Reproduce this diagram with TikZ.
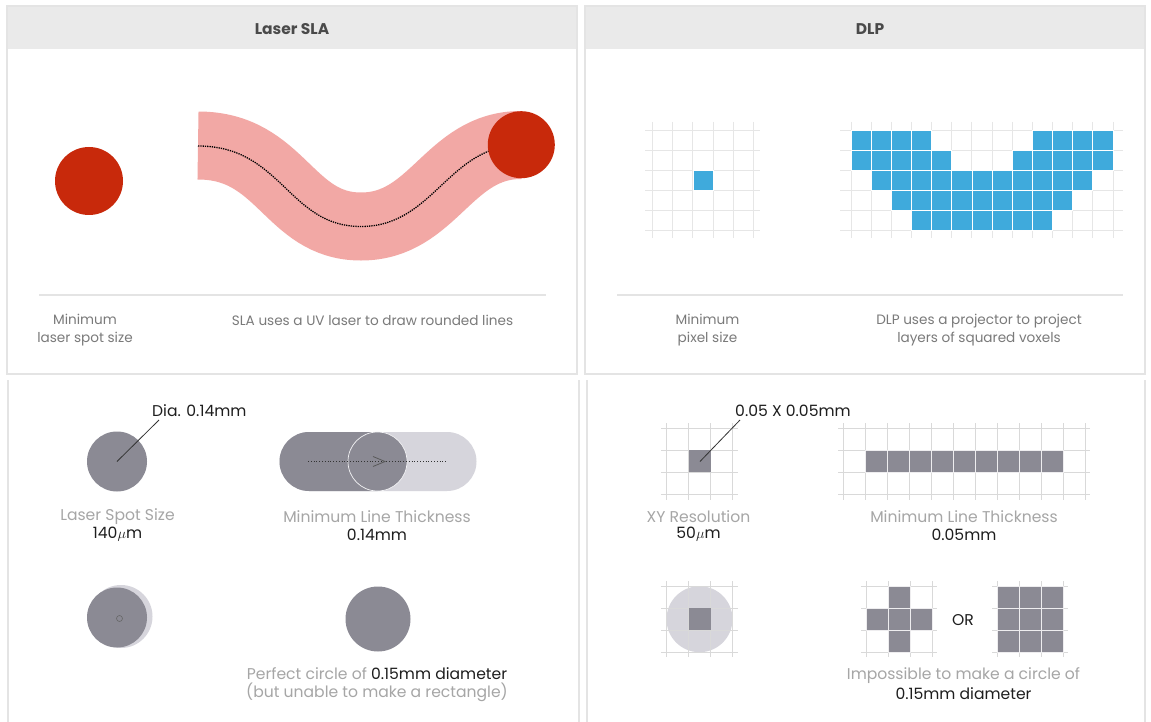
\documentclass[tikz,border=0pt]{standalone}
\usepackage{fontspec}
\setmainfont{Poppins}
\definecolor{redc}{HTML}{C8290B}
\definecolor{pinkc}{HTML}{F2A8A5}
\definecolor{bluec}{HTML}{3FAADC}
\definecolor{darkg}{HTML}{8B8A94}
\definecolor{lightg}{HTML}{D6D5DC}
\definecolor{headc}{HTML}{EAEAEA}
\definecolor{borderc}{HTML}{E4E4E4}
\definecolor{gridc}{HTML}{E6E6E6}
\definecolor{gridd}{HTML}{D9D9D9}
\definecolor{toptext}{HTML}{7A7A7A}
\definecolor{headtext}{HTML}{4A4A4A}
\definecolor{labg}{HTML}{A6A6A6}
\definecolor{valc}{HTML}{1E1E1E}
\begin{document}
\begin{tikzpicture}[x=1pt,y=-1pt,
  panel/.style={draw=borderc,line width=1.5pt},
  headband/.style={fill=headc},
  headlabel/.style={font=\fontsize{15.5}{18}\selectfont\bfseries,text=headtext,inner sep=0pt},
  toplabel/.style={font=\fontsize{13.6}{18}\selectfont,text=toptext,align=center,inner sep=0pt},
  graylabel/.style={font=\fontsize{15.6}{18}\selectfont,text=labg,align=center,inner sep=0pt},
  vallabel/.style={font=\fontsize{15.6}{18}\selectfont,text=valc,align=center,inner sep=0pt},
  sepline/.style={draw=borderc,line width=1.2pt},
  gline/.style={draw=gridc,line width=0.9pt},
  dline/.style={draw=gridd,line width=0.8pt},
  bcell/.style={fill=bluec,draw=white,line width=0.8pt},
  gcell/.style={fill=darkg,draw=white!85!darkg,line width=0.8pt},
  leader/.style={draw=black!80,line width=0.8pt}]
\useasboundingbox (0,0) rectangle (1151,722);
\fill[white] (0,0) rectangle (1151,722);

% ---------- top panels ----------
\fill[headband] (7,6) rectangle (577,49);
\fill[headband] (585,6) rectangle (1145,49);
\draw[panel] (7,6) rectangle (577,374);
\draw[panel] (585,6) rectangle (1145,374);
\node[headlabel] (hsla) at (292,29) {Laser SLA};
\node[headlabel] (hdlp) at (870,29) {DLP};

% bottom panel side lines
\draw[panel] (8,380) -- (8,722);
\draw[panel] (579,380) -- (579,722);
\draw[panel] (587,380) -- (587,722);
\draw[panel] (1145,380) -- (1145,722);

% ---------- Laser SLA top ----------
\fill[redc] (89,181) circle[radius=34pt];
\draw[pinkc,line width=68pt] (198,145.5) .. controls (282,145.5) and (288,226.5) .. (361,226.5) .. controls (434,226.5) and (448,145) .. (521,145);
\draw[black,line width=1.3pt,densely dotted] (198,146) .. controls (282,146) and (288,226.5) .. (361,226.5) .. controls (434,226.5) and (448,145) .. (521,145);
\fill[redc] (521.3,144.7) circle[radius=33.5pt];
\draw[sepline] (39,295) -- (546,295);
\node[toplabel] (minspot) at (85,330) {Minimum\\laser spot size};
\node[toplabel] (slauses) at (372.5,320) {SLA uses a UV laser to draw rounded lines};

% ---------- DLP top ----------
\foreach \i in {0,...,5} {
  \draw[gline] (652.7+20.1*\i,122) -- (652.7+20.1*\i,238);
  \draw[gline] (645,130+20.1*\i) -- (760,130+20.1*\i);
}
\draw[bcell] (692.9,170.2) rectangle (713,190.3);
\foreach \i in {0,...,13} \draw[gline] (851+20.15*\i,122) -- (851+20.15*\i,238);
\foreach \i in {0,...,5} \draw[gline] (840,130+20.1*\i) -- (1123,130+20.1*\i);
\foreach \r/\a/\b in {0/0/3,0/9/12,1/0/4,1/8/12,2/1/11,3/2/10,4/3/9} {
  \foreach \c in {\a,...,\b}
    \draw[bcell] (851+20.15*\c,130+20.1*\r) rectangle ++(20.15,20.1);
}
\draw[sepline] (617,295) -- (1123,295);
\node[toplabel] (minpix) at (707.5,330) {Minimum\\pixel size};
\node[toplabel] (dlpuses) at (979,330) {DLP uses a projector to project\\layers of squared voxels};

% ---------- Laser SLA bottom ----------
\fill[darkg] (117,461.5) circle[radius=30pt];
\coordinate (spotc) at (117,461.5);
\node[vallabel,anchor=west] (dia) at (152,410.5) {Dia. 0.14mm};
\coordinate (diaend) at (159,420);
\draw[leader] (spotc) -- (diaend);

\fill[lightg] (309,432) arc[start angle=90,end angle=270,radius=29.5pt] -- (447,491) arc[start angle=-90,end angle=90,radius=29.5pt] -- cycle;
\fill[darkg] (309,432) arc[start angle=90,end angle=270,radius=29.5pt] -- (377.5,491) arc[start angle=-90,end angle=90,radius=29.5pt] -- cycle;
\draw[white!70!lightg,line width=0.7pt] (377.5,461.5) circle[radius=29.5pt];
\coordinate (dots) at (308,461.5);
\coordinate (dote) at (446,461.5);
\draw[black!80,line width=0.8pt,dotted] (dots) -- (dote);
\draw[black!65,line width=0.8pt] (373,456.5) -- (385,461.5) -- (373,466.5);

\node[graylabel] (lss) at (117.5,516.7) {Laser Spot Size};
\node[vallabel] (lssv) at (117.5,534.5) {140$\mu$m};
\node[graylabel] (mlt1) at (377,516.7) {Minimum Line Thickness};
\node[vallabel] (mlt1v) at (377,534.5) {0.14mm};

\fill[lightg] (121,616.5) circle[radius=31.5pt];
\fill[darkg] (117,617.5) circle[radius=30pt];
\draw[black!60,line width=0.6pt] (119.5,618.5) circle[radius=3pt];

\fill[darkg] (378,619) circle[radius=32.5pt];
\node[graylabel] (perf) at (377,684.5) {Perfect circle of \textcolor{valc}{0.15mm diameter}\\(but unable to make a rectangle)};

% ---------- DLP bottom ----------
% XY resolution grid
\foreach \i in {0,...,3} {
  \draw[dline] (666.5+22*\i,423) -- (666.5+22*\i,500);
  \draw[dline] (661,428.3+22*\i) -- (738,428.3+22*\i);
}
\fill[darkg] (688.5,450.3) rectangle (710.5,472.3);
\coordinate (pixc) at (700,461.5);
\node[vallabel,anchor=west] (pxsz) at (735,410.5) {0.05 X 0.05mm};
\coordinate (pxend) at (740,420);
\draw[leader] (pixc) -- (pxend);

% line grid
\foreach \i in {0,...,11} \draw[dline] (843+22*\i,423) -- (843+22*\i,500);
\foreach \i in {0,...,3} \draw[dline] (838,428.3+22*\i) -- (1090,428.3+22*\i);
\foreach \c in {1,...,9} \draw[gcell] (843+22*\c,450.3) rectangle ++(22,22);

\node[graylabel] (xyr) at (698.5,516.7) {XY Resolution};
\node[vallabel] (xyrv) at (698.5,534.5) {50$\mu$m};
\node[graylabel] (mlt2) at (964,516.7) {Minimum Line Thickness};
\node[vallabel] (mlt2v) at (964,534.5) {0.05mm};

% circle over one pixel
\fill[lightg] (699.5,619.2) circle[radius=33pt];
\foreach \i in {0,...,3} {
  \draw[dline] (666.5+22*\i,581) -- (666.5+22*\i,657);
  \draw[dline] (661,586+22*\i) -- (738,586+22*\i);
}
\fill[darkg] (688.5,608) rectangle (710.5,630);

% cross
\foreach \i in {0,...,3} {
  \draw[dline] (866+22*\i,581) -- (866+22*\i,657);
  \draw[dline] (861,586+22*\i) -- (937,586+22*\i);
}
\foreach \c/\r in {1/0,0/1,1/1,2/1,1/2} \draw[gcell] (866+22*\c,586+22*\r) rectangle ++(22,22);
\node[font=\fontsize{15.6}{18}\selectfont,text=valc,inner sep=0pt] (or) at (963,620) {OR};

% square
\foreach \i in {0,...,3} {
  \draw[dline] (997+22*\i,581) -- (997+22*\i,657);
  \draw[dline] (992,586+22*\i) -- (1068,586+22*\i);
}
\foreach \c in {0,1,2} \foreach \r in {0,1,2} \draw[gcell] (997+22*\c,586+22*\r) rectangle ++(22,22);

\node[graylabel] (imp) at (963.5,675.7) {Impossible to make a circle of};
\node[vallabel] (impv) at (963.5,693.5) {0.15mm diameter};
\end{tikzpicture}
\end{document}
